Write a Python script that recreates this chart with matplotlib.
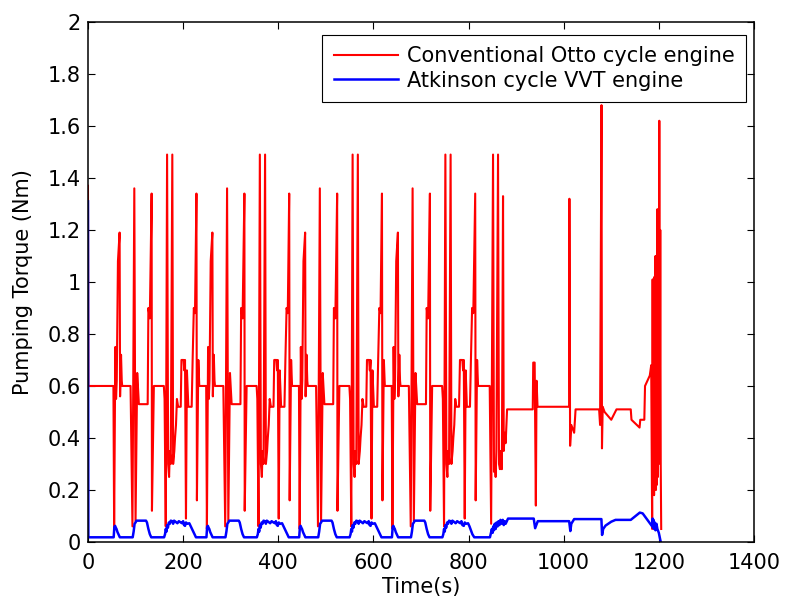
import numpy as np
import matplotlib.pyplot as plt
from matplotlib.ticker import MultipleLocator, FormatStrFormatter

plt.rcParams['font.family'] = 'DejaVu Sans'
plt.rcParams['font.size'] = 15

##################
# NEDC: 4 urban segments of 195 s, then extra-urban part

seg_len = 195
n_urban = 4

# --- Otto engine, urban segment ---
otto_first_t = [0, 0.8]
otto_first   = [1.37, 0.60]

otto_start_t = [0, 1.5, 6, 7.5, 9, 11, 13, 16, 23, 25, 27.5, 30, 33, 34, 37, 39]
otto_start   = [0.52, 0.70, 0.70, 0.66, 0.70, 0.09, 0.66, 0.52, 0.52, 0.70, 0.90, 0.88, 1.34, 0.16, 0.70, 0.60]

otto_main_t = [53.5, 55, 57.5, 59, 60.5, 63, 66.5, 67.5, 69.5, 71, 72,
               89.5, 93.5, 97.4, 100, 103.5, 107, 125.5, 127, 130, 133.8, 134.5, 138.5,
               159.5, 161, 163.5, 166.3, 168.5, 170.5, 172, 174, 177.3, 179, 181.5, 183, 185, 187, 189.5]
otto_main   = [0.60, 0.05, 0.75, 0.55, 0.62, 1.08, 1.19, 0.56, 0.72, 0.62, 0.60,
               0.60, 0.06, 1.36, 0.08, 0.65, 0.53, 0.53, 0.90, 0.86, 1.34, 0.12, 0.60,
               0.60, 0.55, 0.06, 1.49, 0.30, 0.25, 0.35, 0.30, 1.49, 0.30, 0.35, 0.40, 0.45, 0.55, 0.52]

# --- Otto engine, extra-urban ---
eudc_otto_t = [782, 787, 788.5, 790, 792, 794, 796.5, 803, 805, 807.5, 810, 814, 815, 818, 820,
               844.5, 847.5, 851.5, 853.5, 855.5, 857, 858.5, 862, 864, 866, 868, 870, 872.5,
               874, 876, 878, 880, 881, 935, 936, 939, 941.5, 943, 945,
               1011.5, 1012, 1013.5, 1016, 1022, 1025, 1074.5, 1076.5, 1079.5, 1080.5, 1082, 1086,
               1100, 1111, 1141, 1142.5, 1159.5, 1161, 1169.5, 1171, 1181, 1184,
               1186, 1187, 1188, 1189, 1190, 1191, 1192, 1193, 1194, 1195,
               1196, 1197, 1198, 1199, 1200, 1201, 1202, 1203, 1204, 1205]
eudc_otto   = [0.70, 0.70, 0.66, 0.70, 0.09, 0.66, 0.52, 0.52, 0.70, 0.90, 0.88, 1.34, 0.16, 0.70, 0.60,
               0.60, 0.07, 1.49, 0.27, 0.30, 0.25, 0.35, 1.49, 0.30, 0.28, 0.35, 0.28, 1.33,
               0.35, 0.42, 0.38, 0.47, 0.51, 0.51, 0.69, 0.69, 0.14, 0.62, 0.52,
               0.52, 1.32, 0.37, 0.45, 0.42, 0.51, 0.51, 0.45, 1.68, 0.36, 0.52, 0.50,
               0.47, 0.51, 0.51, 0.47, 0.44, 0.47, 0.47, 0.60, 0.64, 0.68,
               0.05, 1.01, 0.20, 0.70, 0.18, 1.02, 0.25, 1.10, 0.20, 0.85,
               0.22, 1.28, 0.25, 0.60, 0.30, 1.62, 0.35, 1.20, 0.30, 0.05]

# --- Atkinson VVT engine, urban segment ---
vvt_first_t = [0, 0.8]
vvt_first   = [1.31, 0.018]

vvt_start_t = [0, 3, 5, 7, 9, 11, 14, 18, 21, 25, 29, 32]
vvt_start   = [0.075, 0.072, 0.08, 0.065, 0.062, 0.075, 0.07, 0.072, 0.06, 0.045, 0.03, 0.018]

vvt_main_t = [54, 55.5, 57, 58.5, 60, 62, 64, 67, 94, 96, 98, 100, 102, 122, 124, 127, 130, 133,
              160, 162, 163.5, 165, 166.5, 168, 170, 172, 174, 177, 179, 181, 184, 188, 191]
vvt_main   = [0.018, 0.058, 0.062, 0.055, 0.05, 0.038, 0.03, 0.018, 0.018, 0.04, 0.07, 0.075, 0.082,
              0.082, 0.075, 0.05, 0.03, 0.018,
              0.018, 0.03, 0.05, 0.04, 0.065, 0.055, 0.075, 0.07, 0.082, 0.08, 0.07, 0.082, 0.078,
              0.072, 0.08]

# --- Atkinson VVT engine, extra-urban ---
eudc_vvt_t = [783, 785, 787, 790, 792, 795, 799, 802, 805, 808, 812, 845, 847, 849, 850.5, 852,
              853.5, 855, 857, 859, 861, 863, 865, 867, 869, 872, 874, 876, 878, 883,
              937, 940, 945.5, 1011.5, 1014, 1016, 1022, 1079.3, 1080.7, 1083, 1088, 1100, 1109,
              1141, 1160, 1166, 1176, 1186, 1187, 1188, 1189, 1190, 1191.5, 1193, 1195, 1197,
              1200, 1203, 1204]
eudc_vvt   = [0.072, 0.08, 0.065, 0.062, 0.075, 0.07, 0.072, 0.06, 0.045, 0.03, 0.018, 0.018, 0.035,
              0.05, 0.035, 0.06, 0.045, 0.07, 0.05, 0.075, 0.06, 0.08, 0.065, 0.085, 0.07, 0.085,
              0.065, 0.08, 0.07, 0.09,
              0.09, 0.053, 0.08, 0.08, 0.042, 0.07, 0.088, 0.088, 0.027, 0.05, 0.063, 0.078, 0.085,
              0.085, 0.113, 0.11, 0.085, 0.06, 0.09, 0.055, 0.085, 0.05, 0.075, 0.045, 0.07, 0.05,
              0.035, 0.01, 0.0]

##################

otto_t = otto_first_t + otto_main_t
otto_v = otto_first + otto_main
vvt_t = vvt_first_t + vvt_main_t
vvt_v = vvt_first + vvt_main
for k in range(1, n_urban):
    otto_t += [k * seg_len + t for t in otto_start_t + otto_main_t]
    otto_v += otto_start + otto_main
    vvt_t += [k * seg_len + t for t in vvt_start_t + vvt_main_t]
    vvt_v += vvt_start + vvt_main
otto_t += [n_urban * seg_len] + eudc_otto_t
otto_v += [0.52] + eudc_otto
vvt_t += [n_urban * seg_len] + eudc_vvt_t
vvt_v += [0.075] + eudc_vvt

fig = plt.figure(figsize=(7.89, 6.03), dpi=100)
ax = fig.add_axes([0.1115, 0.1012, 0.8441, 0.8624])

ax.plot(otto_t, otto_v, color='#ff0000', lw=1.5, label='Conventional Otto cycle engine')
ax.plot(vvt_t, vvt_v, color='#0000ff', lw=1.8, label='Atkinson cycle VVT engine')

ax.set_xlim(0, 1400)
ax.set_ylim(0, 2)
ax.xaxis.set_major_locator(MultipleLocator(200))
ax.yaxis.set_major_locator(MultipleLocator(0.2))
ax.yaxis.set_major_formatter(FormatStrFormatter('%g'))
ax.tick_params(direction='in', top=True, right=True, length=5, width=0.8, labelsize=15)
ax.tick_params(axis='x', pad=8)
ax.tick_params(axis='y', pad=5)
for s in ax.spines.values():
    s.set_linewidth(1.1)

ax.set_xlabel('Time(s)', fontsize=15, labelpad=3)
ax.set_ylabel('Pumping Torque (Nm)', fontsize=15, labelpad=11)

leg = ax.legend(loc='upper right', bbox_to_anchor=(0.988, 0.975), borderaxespad=0,
                fancybox=False, edgecolor='black', framealpha=1, fontsize=15,
                handlelength=3.1, handletextpad=0.4, borderpad=0.55, labelspacing=0.2)
leg.get_frame().set_linewidth(0.8)

plt.savefig('out.png', dpi=100)
